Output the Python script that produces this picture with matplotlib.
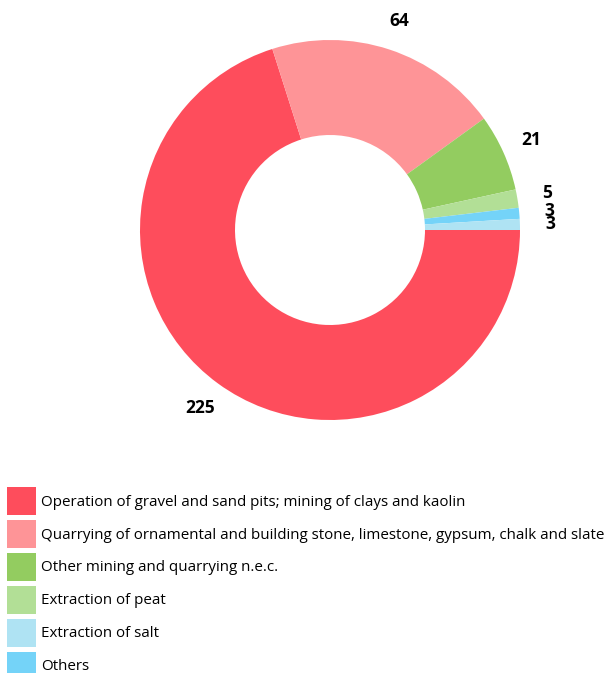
import matplotlib
matplotlib.use("Agg")
import matplotlib.pyplot as plt
from matplotlib.patches import Patch

# values in drawing order (clockwise from 3 o'clock)
values = [225, 64, 21, 5, 3, 3]
value_labels = ["225", "64", "21", "5", "3", "3"]
slice_colors = ["#FE4D5C", "#FE9497", "#93CC60", "#B2DF96", "#74D3F8", "#AFE3F3"]

# legend order
legend_names = [
    "Operation of gravel and sand pits; mining of clays and kaolin",
    "Quarrying of ornamental and building stone, limestone, gypsum, chalk and slate",
    "Other mining and quarrying n.e.c.",
    "Extraction of peat",
    "Extraction of salt",
    "Others",
]
legend_colors = ["#FE4D5C", "#FE9497", "#93CC60", "#B2DF96", "#AFE3F3", "#74D3F8"]

plt.rcParams['font.family'] = ['Open Sans', 'DejaVu Sans']

W, H = 606, 673
fig = plt.figure(figsize=(W / 100, H / 100), dpi=100)

# donut: center (330, 230) px, radius 190 px
cx, cy, r = 330, 230, 190
ax = fig.add_axes([(cx - r) / W, 1 - (cy + r) / H, 2 * r / W, 2 * r / H])
wedges, texts = ax.pie(values, labels=value_labels, colors=slice_colors,
                       startangle=0, counterclock=False, radius=1,
                       labeldistance=1.16,
                       wedgeprops=dict(width=0.5, linewidth=0))
for t in texts:
    t.set_ha("center")
    t.set_va("center")
    t.set_fontsize(12.5)
    t.set_fontweight("bold")
ax.set_xlim(-1, 1)
ax.set_ylim(-1, 1)
ax.set_aspect("equal")
ax.axis("off")

fs = 10.9
fs_px = fs * 100 / 72
# legend handle box height = fs*(hh) - 0.35*fs*(hh-0.7)
hh = (28 / fs_px - 0.245) / 0.65
handles = [Patch(facecolor=c, edgecolor="none") for c in legend_colors]
fig.legend(handles, legend_names, loc="upper left",
           bbox_to_anchor=(7 / W, 1 - 487 / H), frameon=False,
           fontsize=fs, borderpad=0, borderaxespad=0,
           handlelength=29 / fs_px, handleheight=hh,
           handletextpad=5 / fs_px, labelspacing=4.9 / fs_px)

fig.savefig("out.png", dpi=100)
